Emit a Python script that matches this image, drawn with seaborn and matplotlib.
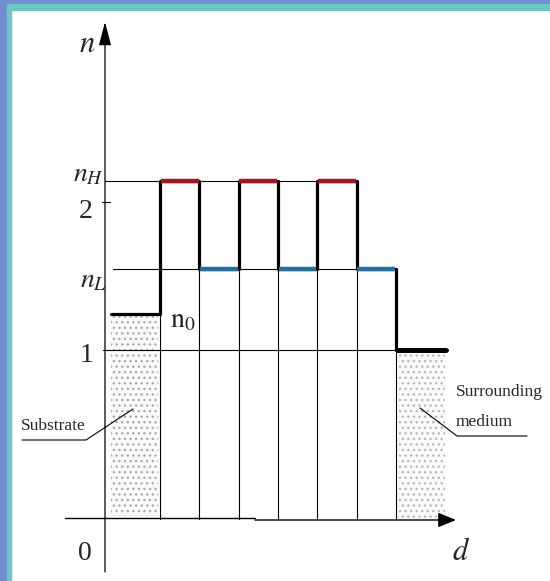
import matplotlib
matplotlib.use("Agg")
import matplotlib.pyplot as plt
import seaborn as sns
from matplotlib.patches import Rectangle

# ---------------- data ----------------
layer_types = ["H", "L", "H", "L", "H", "L"]
layer_bounds = [1.4, 2.4, 3.4, 4.4, 5.4, 6.4, 7.4]   # d positions of interfaces
n_H = 2.13
n_L = 1.54
n_0 = 1.24       # substrate index
n_medium = 1.0   # surrounding medium
substrate_start = 0.15
medium_end = 8.7
axis_n = -0.127  # where the d axis is drawn
tick_labels = ["1", "2"]
tick_values = [1.0, 2.0]

# ---------------- helpers (pixel -> data) ----------------
def dx(p):
    return (p - 105) / 39.3

def ny(p):
    return 1 + (350 - p) / 150

sns.set_style("white")
plt.rcParams["mathtext.fontset"] = "stix"
plt.rcParams["font.family"] = ["Liberation Serif", "DejaVu Serif"]
plt.rcParams["hatch.linewidth"] = 0.9

fig = plt.figure(figsize=(5.5, 5.81), dpi=100)
ax = fig.add_axes([0, 0, 1, 1])
ax.set_xlim(dx(0), dx(550))
ax.set_ylim(ny(581), ny(0))
ax.axis("off")

# frame decoration (left and top)
fig.patches.append(Rectangle((0, 0), 7 / 550, 1, transform=fig.transFigure,
                             color="#6f8fcf", zorder=0))
fig.patches.append(Rectangle((7 / 550, 0), 4 / 550, 1 - 4 / 581, transform=fig.transFigure,
                             color="#6cc6c1", zorder=0))
fig.patches.append(Rectangle((0, 1 - 4 / 581), 1, 4 / 581, transform=fig.transFigure,
                             color="#6f8fcf", zorder=0))
fig.patches.append(Rectangle((7 / 550, 1 - 10 / 581), 1, 6 / 581, transform=fig.transFigure,
                             color="#6cc6c1", zorder=0))

level = {"H": n_H, "L": n_L}
colors = {"H": "#a8141f", "L": "#23709f"}

# dotted regions
ax.fill_between([dx(111), layer_bounds[0] - 0.05], axis_n + 0.02, n_0 - 0.015,
                facecolor="#fafafa", edgecolor="#a6a6a6", hatch="...", linewidth=0, zorder=1)
ax.fill_between([layer_bounds[-1] + 0.06, medium_end - 0.05], axis_n, n_medium - 0.015,
                facecolor="#fafafa", edgecolor="#b4b4b4", hatch="...", linewidth=0, zorder=1)

thin = dict(color="black", lw=0.8, zorder=2)
# thin reference levels
ax.plot([0, layer_bounds[5]], [n_H, n_H], **thin)
ax.plot([dx(113), layer_bounds[-1]], [n_L, n_L], **thin)
ax.plot([dx(103), layer_bounds[-1]], [n_medium, n_medium], **thin)
# thin verticals at interfaces down to axis
for i, b in enumerate(layer_bounds):
    ax.plot([b, b], [axis_n, n_L], **thin)

# y tick for 2
ax.plot([dx(102), dx(110)], [ny(202), ny(202)], color="black", lw=0.8)

# step profile
prof_d = [substrate_start, layer_bounds[0]]
prof_n = [n_0, n_0]
for i, t in enumerate(layer_types):
    prof_d += [layer_bounds[i], layer_bounds[i + 1]]
    prof_n += [level[t], level[t]]
prof_d += [layer_bounds[-1], medium_end]
prof_n += [n_medium, n_medium]
sns.lineplot(x=prof_d, y=prof_n, sort=False, estimator=None, color="black",
             lw=2.3, ax=ax, zorder=4)
# thick medium line
ax.plot([layer_bounds[-1], medium_end], [n_medium, n_medium], color="black", lw=3.6,
        solid_capstyle="butt", zorder=4)
# coloured layer tops
for i, t in enumerate(layer_types):
    ax.plot([layer_bounds[i] + 0.02, layer_bounds[i + 1] - 0.02], [level[t], level[t]],
            color=colors[t], lw=3.2, solid_capstyle="butt", zorder=5)

# axes with arrows
ax.annotate("", xy=(0, ny(22)), xytext=(0, ny(572)),
            arrowprops=dict(arrowstyle="-|>,head_length=1.45,head_width=0.38",
                            mutation_scale=10, lw=0.9, color="black",
                            shrinkA=0, shrinkB=0), zorder=6)
ax.plot([dx(65), dx(255)], [ny(518), ny(518)], color="black", lw=1.0, zorder=6)
ax.annotate("", xy=(dx(456), ny(520)), xytext=(dx(255), ny(520)),
            arrowprops=dict(arrowstyle="-|>,head_length=1.1,head_width=0.45",
                            mutation_scale=10, lw=1.0, color="black",
                            shrinkA=0, shrinkB=0), zorder=6)

# labels
ax.text(dx(87), ny(45), "$n$", fontsize=22, ha="center", va="center")
ax.text(dx(88), ny(175), "$n_H$", fontsize=20, ha="center", va="center")
ax.text(dx(93), ny(281), "$n_L$", fontsize=20, ha="center", va="center")
ax.text(dx(86), ny(211), tick_labels[1], fontsize=20, ha="center", va="center")
ax.text(dx(87), ny(356), tick_labels[0], fontsize=20, ha="center", va="center")
ax.text(dx(85), ny(554), "0", fontsize=20, ha="center", va="center")
ax.text(dx(183), ny(321), r"$\mathrm{n}_0$", fontsize=20, ha="center", va="center")
ax.text(dx(461), ny(552), "$d$", fontsize=22, ha="center", va="center")

ax.text(dx(21), ny(426), "Substrate", fontsize=12.5, ha="left", va="center")
ax.plot([dx(22), dx(86), dx(133)], [ny(440), ny(440), ny(409)], color="black", lw=0.8)
ax.text(dx(456), ny(392), "Surrounding", fontsize=12.5, ha="left", va="center")
ax.text(dx(456), ny(422), "medium", fontsize=12.5, ha="left", va="center")
ax.plot([dx(420), dx(457), dx(527)], [ny(408), ny(436), ny(436)], color="black", lw=0.8)

fig.savefig("out.png", dpi=100)
